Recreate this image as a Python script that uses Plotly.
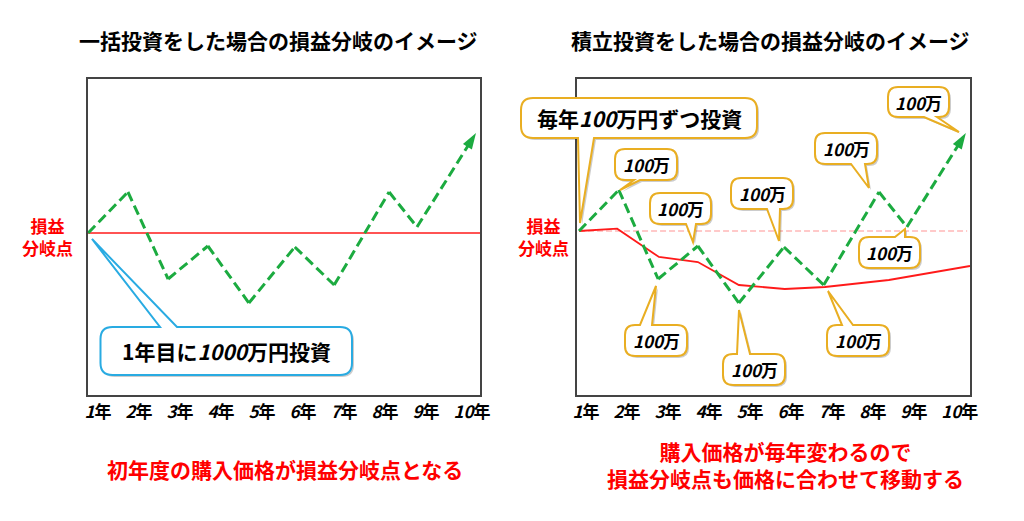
import plotly.graph_objects as go

W, H = 1024, 521
FONT = "Noto Sans CJK JP"

years = ["1", "2", "3", "4", "5", "6", "7", "8", "9", "10"]
year_ticks = [1, 2, 3, 4, 5, 6, 7, 8, 9, 10.12]

# price path, left chart (lump sum)
lump_x = [0.76, 1.73, 2.71, 3.68, 4.68, 5.80, 6.76, 8.10, 8.78, 10.22]
lump_price = [0, 41, -46, -13, -70, -14, -52, 41, 6, 100]
lump_be_x = [0.744, 10.317]
lump_be = [0, 0]

# price path, right chart (yearly)
tsumi_x = [0.83, 1.80, 2.76, 3.73, 4.73, 5.83, 6.80, 8.15, 8.83, 10.27]
tsumi_price = [0, 41, -48, -15, -72, -16, -54, 39, 4, 98]
tsumi_be_x = [0.83, 1.76, 2.78, 3.73, 4.73, 5.85, 6.83, 8.39, 10.37]
tsumi_be = [0, 2.3, -26, -31, -54, -58, -56, -49, -35]
first_be_x = [0.83, 10.3]
first_be = [0, 0]

GREEN = "#1CAB40"
RED = "#FF1A1A"
ORANGE = "#E9AE22"
BLUE = "#29ABE2"


def px(x, y):
    return f"{x / W:.5f},{1 - y / H:.5f}"


def callout_path(box, tail, dx=0, dy=0):
    # rounded box in pixels, with a pointed tail on its top or bottom edge
    x0, y0, x1, y1, r = box
    a, b, tip_x, tip_y, side = tail
    x0, x1, a, b, tip_x = x0 + dx, x1 + dx, a + dx, b + dx, tip_x + dx
    y0, y1, tip_y = y0 + dy, y1 + dy, tip_y + dy
    d = "M" + px(x0 + r, y0)
    if side == "top":
        d += " L" + px(a, y0) + " L" + px(tip_x, tip_y) + " L" + px(b, y0)
    d += " L" + px(x1 - r, y0) + " Q" + px(x1, y0) + " " + px(x1, y0 + r)
    d += " L" + px(x1, y1 - r) + " Q" + px(x1, y1) + " " + px(x1 - r, y1)
    if side == "bottom":
        d += " L" + px(b, y1) + " L" + px(tip_x, tip_y) + " L" + px(a, y1)
    d += " L" + px(x0 + r, y1) + " Q" + px(x0, y1) + " " + px(x0, y1 - r)
    d += " L" + px(x0, y0 + r) + " Q" + px(x0, y0) + " " + px(x0 + r, y0) + " Z"
    return d


def label(text, x, y, size, color="black"):
    return dict(text=text, x=x / W, y=1 - y / H, xref="paper", yref="paper",
                showarrow=False, xanchor="center", yanchor="middle",
                font=dict(family=FONT, size=size, color=color))


fig = go.Figure()


def price_trace(x, y, xa, ya):
    sizes = [0] * (len(x) - 1) + [17]
    return go.Scatter(x=x, y=y, xaxis=xa, yaxis=ya, mode="lines+markers",
                      line=dict(color=GREEN, width=3, dash="10px,5px"),
                      marker=dict(symbol="arrow", size=sizes, color=GREEN, opacity=1,
                                  angleref="previous", line=dict(width=0)))


fig.add_trace(go.Scatter(x=lump_be_x, y=lump_be, xaxis="x", yaxis="y", mode="lines",
                         line=dict(color=RED, width=1.5)))
fig.add_trace(price_trace(lump_x, lump_price, "x", "y"))
fig.add_trace(go.Scatter(x=first_be_x, y=first_be, xaxis="x2", yaxis="y2", mode="lines",
                         line=dict(color="#FFB8B8", width=1.5, dash="6px,3px")))
fig.add_trace(go.Scatter(x=tsumi_be_x, y=tsumi_be, xaxis="x2", yaxis="y2", mode="lines",
                         line=dict(color=RED, width=1.8)))
fig.add_trace(price_trace(tsumi_x, tsumi_price, "x2", "y2"))

# callouts: box (x0, y0, x1, y1, radius), tail (base a, base b, tip x, tip y, edge)
callouts = [
    ((100.5, 327, 352, 375, 12), (160, 177, 92, 239, "top"), BLUE, "1年目に<i>1000</i>万円投資", 21),
    ((521, 98, 757, 138, 12), (578, 594, 580, 223, "bottom"), ORANGE, "毎年<i>100</i>万円ずつ投資", 21),
    ((615, 149, 677, 180, 10), (634, 640, 620, 190, "bottom"), ORANGE, "<i>100</i>万", 17),
    ((650, 193, 711, 224, 10), (686, 696, 693, 242, "bottom"), ORANGE, "<i>100</i>万", 17),
    ((731, 178, 793, 209, 10), (767, 780, 779, 241, "bottom"), ORANGE, "<i>100</i>万", 17),
    ((815, 133, 877, 164, 10), (851, 865, 869, 188, "bottom"), ORANGE, "<i>100</i>万", 17),
    ((888, 87, 949, 117, 10), (924, 937, 959, 132, "bottom"), ORANGE, "<i>100</i>万", 17),
    ((859, 237, 920, 268, 10), (895, 905, 905, 229, "top"), ORANGE, "<i>100</i>万", 17),
    ((625, 325, 687, 356, 10), (640, 652, 656, 286, "top"), ORANGE, "<i>100</i>万", 17),
    ((723, 354, 785, 385, 10), (737, 750, 739, 310, "top"), ORANGE, "<i>100</i>万", 17),
    ((827, 325, 889, 356, 10), (842, 853, 828, 291, "top"), ORANGE, "<i>100</i>万", 17),
]

shapes = []
notes = []
for box, tail, color, text, size in callouts:
    shapes.append(dict(type="path", xref="paper", yref="paper",
                       path=callout_path(box, tail, 2, 2),
                       fillcolor="rgba(0,0,0,0.2)", line=dict(width=0)))
    shapes.append(dict(type="path", xref="paper", yref="paper",
                       path=callout_path(box, tail),
                       fillcolor="white", line=dict(color=color, width=2)))
    notes.append(label("<b>" + text + "</b>", (box[0] + box[2]) / 2, (box[1] + box[3]) / 2, size))

notes += [
    label("<b>一括投資をした場合の損益分岐のイメージ</b>", 278, 40, 21),
    label("<b>積立投資をした場合の損益分岐のイメージ</b>", 770, 40, 21),
    label("<b>損益<br>分岐点</b>", 47, 236, 17, "#FF0000"),
    label("<b>損益<br>分岐点</b>", 543, 236, 17, "#FF0000"),
    label("<b>初年度の購入価格が損益分岐点となる</b>", 285, 469, 21, "#FF0000"),
    label("<b>購入価格が毎年変わるので<br>損益分岐点も価格に合わせて移動する</b>", 785, 464, 21, "#FF0000"),
]

xaxis_style = dict(tickmode="array", tickvals=year_ticks,
                   ticktext=["<b><i>" + y + "</i>年</b>" for y in years],
                   tickfont=dict(family=FONT, size=17, color="black"),
                   ticks="outside", ticklen=1, tickcolor="rgba(0,0,0,0)",
                   showgrid=False, zeroline=False, showline=True, mirror=True,
                   linecolor="#444444", linewidth=2, fixedrange=True, automargin=False)
yaxis_style = dict(showticklabels=False, ticks="", showgrid=False, zeroline=False,
                   showline=True, mirror=True, linecolor="#444444", linewidth=2,
                   domain=[1 - 395 / H, 1 - 79 / H], fixedrange=True, automargin=False)

fig.update_layout(
    width=W, height=H, margin=dict(l=0, r=0, t=0, b=0),
    paper_bgcolor="white", plot_bgcolor="white", showlegend=False,
    xaxis=dict(xaxis_style, domain=[87.5 / W, 480 / W], range=[0.744, 10.317]),
    yaxis=dict(yaxis_style, anchor="x", range=[-162, 154]),
    xaxis2=dict(xaxis_style, domain=[577 / W, 970 / W], range=[0.78, 10.37], anchor="y2"),
    yaxis2=dict(yaxis_style, anchor="x2", range=[-164, 152]),
    shapes=shapes, annotations=notes,
)

fig.write_html("out.html", config={"displayModeBar": False},
               post_script="document.body.style.margin='0';")
